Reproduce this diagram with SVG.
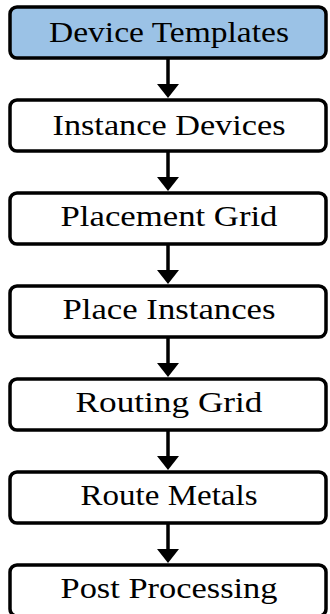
<svg xmlns="http://www.w3.org/2000/svg" width="330" height="614" viewBox="0 0 330 614">
<defs>
<style>
.box{fill:#ffffff;stroke:#000;stroke-width:3.5}
.hl{fill:#9bc2e6}
.lbl{font-family:"Liberation Serif","DejaVu Serif",serif;font-size:29px;fill:#000;text-anchor:middle}
.edge{stroke:#000;stroke-width:3.5;fill:none}
.head{fill:#000}
</style>
</defs>
<rect width="330" height="614" fill="#fff"/>
<g id="connectors">
<line class="edge" x1="168" y1="58" x2="168" y2="86"/><polygon class="head" points="157,84 179,84 168,98"/>
<line class="edge" x1="168" y1="151" x2="168" y2="179"/><polygon class="head" points="157,177 179,177 168,191"/>
<line class="edge" x1="168" y1="244" x2="168" y2="272"/><polygon class="head" points="157,270 179,270 168,284"/>
<line class="edge" x1="168" y1="337" x2="168" y2="365"/><polygon class="head" points="157,363 179,363 168,377"/>
<line class="edge" x1="168" y1="430" x2="168" y2="458"/><polygon class="head" points="157,456 179,456 168,470"/>
<line class="edge" x1="168" y1="523" x2="168" y2="551"/><polygon class="head" points="157,549 179,549 168,563"/>
</g>
<g id="n1"><rect class="box hl" x="10" y="7" width="316" height="51" rx="7"/><text class="lbl" x="169" y="42" textLength="240" lengthAdjust="spacingAndGlyphs">Device Templates</text></g>
<g id="n2"><rect class="box" x="10" y="100" width="316" height="51" rx="7"/><text class="lbl" x="169" y="135" textLength="233" lengthAdjust="spacingAndGlyphs">Instance Devices</text></g>
<g id="n3"><rect class="box" x="10" y="193" width="316" height="51" rx="7"/><text class="lbl" x="169" y="226" textLength="217" lengthAdjust="spacingAndGlyphs">Placement Grid</text></g>
<g id="n4"><rect class="box" x="10" y="286" width="316" height="51" rx="7"/><text class="lbl" x="169" y="319" textLength="213" lengthAdjust="spacingAndGlyphs">Place Instances</text></g>
<g id="n5"><rect class="box" x="10" y="379" width="316" height="51" rx="7"/><text class="lbl" x="169" y="412" textLength="187" lengthAdjust="spacingAndGlyphs">Routing Grid</text></g>
<g id="n6"><rect class="box" x="10" y="472" width="316" height="51" rx="7"/><text class="lbl" x="169" y="505" textLength="177" lengthAdjust="spacingAndGlyphs">Route Metals</text></g>
<g id="n7"><rect class="box" x="10" y="565" width="316" height="51" rx="7"/><text class="lbl" x="169" y="598" textLength="217" lengthAdjust="spacingAndGlyphs">Post Processing</text></g>
</svg>
